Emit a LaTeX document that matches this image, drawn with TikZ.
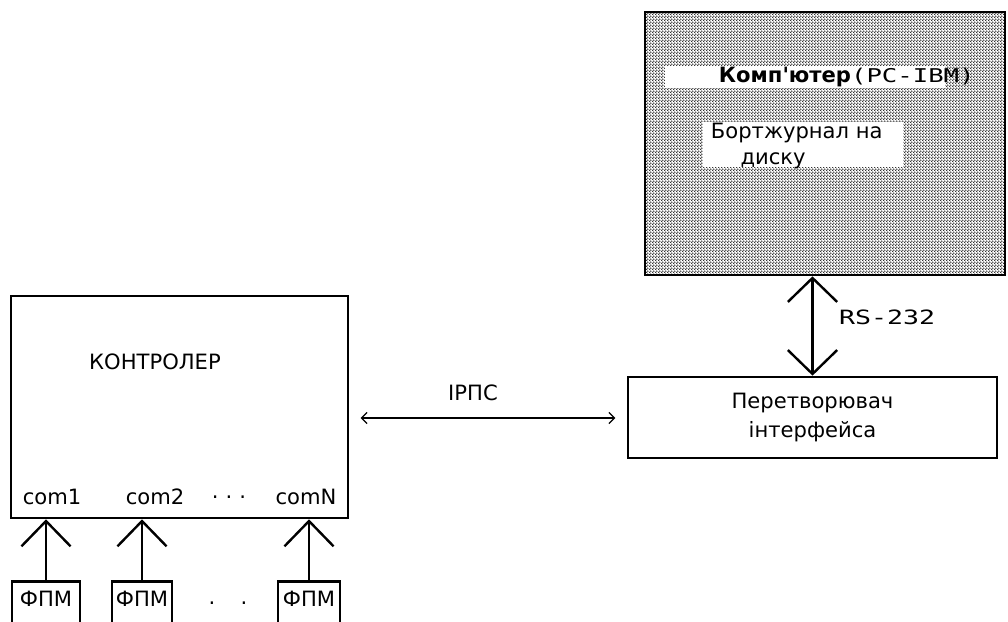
\documentclass[tikz,border=0pt]{standalone}
\usepackage{fontspec}
\setmainfont{DejaVu Sans}
\newfontfamily\widefont[FakeStretch=1.35]{DejaVu Sans Mono}
\usetikzlibrary{arrows.meta,patterns}
\pgfdeclarepatternformonly{pcdots}{\pgfqpoint{0pt}{0pt}}{\pgfqpoint{2.2pt}{2.2pt}}{\pgfqpoint{2.2pt}{2.2pt}}{%
  \pgfpathcircle{\pgfqpoint{0.55pt}{0.55pt}}{0.72pt}%
  \pgfpathcircle{\pgfqpoint{1.65pt}{1.65pt}}{0.72pt}%
  \pgfusepath{fill}}

\begin{document}
\begin{tikzpicture}[x=0.025cm, y=-0.025cm,
  every node/.style={font=\fontsize{15}{18}\selectfont},
  blk/.style={draw, line width=1.9pt, inner sep=0pt},
  fpm/.style={blk, anchor=north, minimum height=46*0.025cm, text height=11pt, text depth=8.6pt},
  bigarrow/.style={-{Straight Barb[length=18pt,width=35pt]}, line width=1.7pt},
  bothbig/.style={{Straight Barb[length=17pt,width=35pt]}-{Straight Barb[length=17pt,width=35pt]}, line width=1.7pt},
  thinarrow/.style={{Straight Barb[length=4pt,width=8pt]}-{Straight Barb[length=4pt,width=8pt]}, line width=0.9pt}]
\useasboundingbox (0,0) rectangle (1008,622);
% Computer
\node[blk, pattern=pcdots, pattern color=black!80, minimum width=360*0.025cm, minimum height=263*0.025cm] (comp) at (825,143.5) {};
\fill[white] (665,66) rectangle (945,88);
\fill[white] (703,122) rectangle (903,167);
\node[anchor=west] (comptitle) at (714,77) {\textbf{Комп\textquotesingle ютер}{\widefont\fontsize{13.5}{15}\selectfont(PC-IBM)}};
\node[anchor=west, align=left] (logbook) at (706,146) {Бортжурнал на\\\hspace{1.4em}диску};
% Converter
\node[blk, minimum width=369*0.025cm, minimum height=81*0.025cm, align=center, font=\fontsize{15}{21}\selectfont] (conv) at (812.5,417.5) {Перетворювач\\інтерфейса};
\draw[bothbig] (conv.north) -- (conv.north |- comp.south);
\node (rs) at (887,317) {\widefont\fontsize{14}{16}\selectfont RS-232};
% Controller
\node[blk, minimum width=337*0.025cm, minimum height=222*0.025cm] (ctrl) at (179.5,407) {};
\node (ctrlname) at (155,362) {КОНТРОЛЕР};
\node (com1) at (52,497) {com1};
\node (com2) at (155,497) {com2};
\node (comdots) at (229,497) {.\,\,.\,\,.};
\node (comN) at (306,497) {comN};
\draw[thinarrow, shorten <=8pt, shorten >=8pt] (conv.west |- 0,418) coordinate (ipcR) -- (ctrl.east |- ipcR);
\node (ipc) at (473,393) {ІРПС};
% FPM modules
\node[fpm, minimum width=68*0.025cm] (fpm1) at (46,580) {ФПМ};
\node[fpm, minimum width=60*0.025cm] (fpm2) at (142,580) {ФПМ};
\node[fpm, minimum width=62*0.025cm] (fpm3) at (309,580) {ФПМ};
\node (fpmdots) at (228,603) {.\hspace{1.2em}.};
\draw[bigarrow] (fpm1.north) -- (fpm1.north |- ctrl.south);
\draw[bigarrow] (fpm2.north) -- (fpm2.north |- ctrl.south);
\draw[bigarrow] (fpm3.north) -- (fpm3.north |- ctrl.south);
\end{tikzpicture}
\end{document}
